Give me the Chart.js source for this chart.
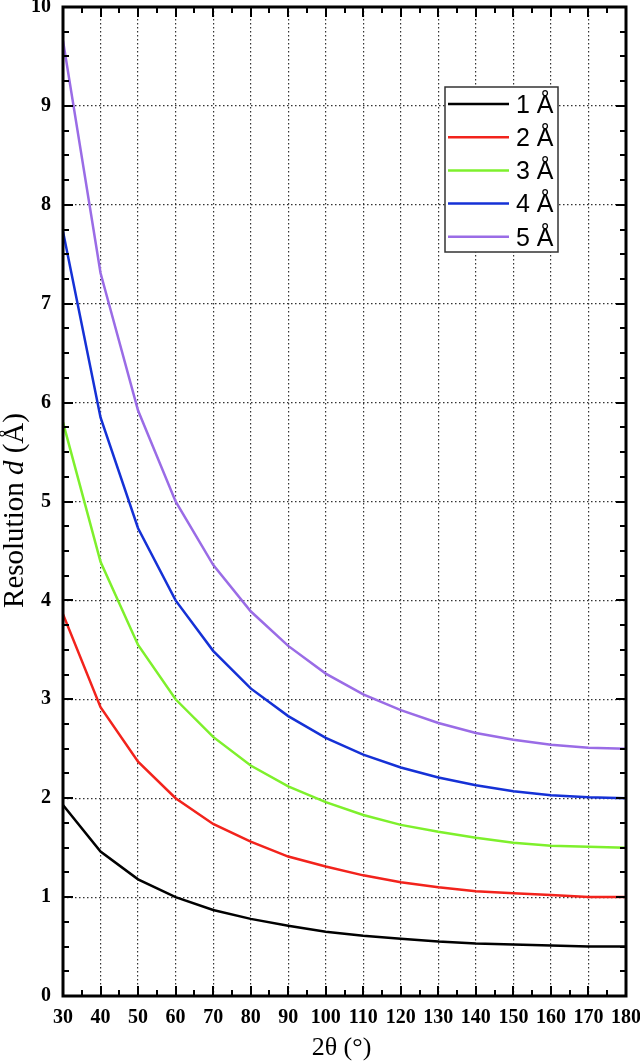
<!DOCTYPE html>
<html><head><meta charset="utf-8">
<script src="https://cdn.jsdelivr.net/npm/chart.js@4/dist/chart.umd.min.js"></script>
<style>html,body{margin:0;padding:0;background:#fff}#wrap{width:640px;height:1061px;position:relative}</style>
</head><body><div id="wrap"><canvas id="c" width="640" height="1061"></canvas></div>
<script>
// ---- data ----
const angles = [30,40,50,60,70,80,90,100,110,120,130,140,150,160,170,180];
const d1A = [1.93,1.46,1.18,1.00,0.87,0.78,0.71,0.65,0.61,0.58,0.55,0.53,0.52,0.51,0.50,0.50];
const d2A = [3.86,2.92,2.37,2.00,1.74,1.56,1.41,1.31,1.22,1.15,1.10,1.06,1.04,1.02,1.00,1.00];
const d3A = [5.80,4.39,3.55,3.00,2.62,2.33,2.12,1.96,1.83,1.73,1.66,1.60,1.55,1.52,1.51,1.50];
const d4A = [7.73,5.85,4.73,4.00,3.49,3.11,2.83,2.61,2.44,2.31,2.21,2.13,2.07,2.03,2.01,2.00];
const d5A = [9.66,7.31,5.92,5.00,4.36,3.89,3.54,3.26,3.05,2.89,2.76,2.66,2.59,2.54,2.51,2.50];
const seriesLabels = ['1 Å','2 Å','3 Å','4 Å','5 Å'];
const seriesValues = [d1A,d2A,d3A,d4A,d5A];
const seriesColors = ['#000000','#f2231c','#7ef02c','#1531d6','#9a6ce6'];
const xTickLabels = ['30','40','50','60','70','80','90','100','110','120','130','140','150','160','170','180'];
const yTickLabels = ['0','1','2','3','4','5','6','7','8','9','10'];
const xTitle = '2θ (°)';
const yTitleParts = [['Resolution ','normal'],['d','italic'],[' (Å)','normal']];

const SERIF = '"Liberation Serif","Times New Roman",serif';
const SANS = '"Liberation Sans",Arial,sans-serif';

const datasets = seriesLabels.map((lab,i)=>({
  label: lab,
  data: angles.map((a,j)=>({x:a,y:seriesValues[i][j]})),
  borderColor: seriesColors[i],
  backgroundColor: seriesColors[i],
  borderWidth: 2.5,
  pointRadius: 0,
  tension: 0,
  fill: false
}));

const framePlugin = {
  id: 'frame',
  afterDatasetsDraw(chart){
    const {ctx, chartArea:a, scales:{x,y}} = chart;
    ctx.save();
    ctx.strokeStyle = '#000';
    ctx.lineWidth = 2;
    ctx.lineCap = 'butt';
    // x ticks (major every 10, minor every 5), inward on bottom and top
    for (let v = x.min; v <= x.max + 1e-9; v += 5){
      const px = Math.round(x.getPixelForValue(v));
      const L = (Math.round(v) % 10 === 0) ? 10 : 6;
      ctx.beginPath();
      ctx.moveTo(px, a.bottom); ctx.lineTo(px, a.bottom - L);
      ctx.moveTo(px, a.top); ctx.lineTo(px, a.top + L);
      ctx.stroke();
    }
    // y ticks (major every 1, minor every 0.25)
    for (let k = 0; k <= 40; k++){
      const v = y.min + k*0.25;
      const py = Math.round(y.getPixelForValue(v));
      const L = (k % 4 === 0) ? 10 : 6;
      ctx.beginPath();
      ctx.moveTo(a.left, py); ctx.lineTo(a.left + L, py);
      ctx.moveTo(a.right, py); ctx.lineTo(a.right - L, py);
      ctx.stroke();
    }
    // frame
    ctx.lineWidth = 3;
    ctx.strokeRect(a.left, a.top, a.right - a.left, a.bottom - a.top);

    // legend box
    const lx = 445, ly = 87, lw = 113, lh = 165, rowH = 33.2;
    ctx.fillStyle = '#fff';
    ctx.fillRect(lx, ly, lw, lh);
    ctx.lineWidth = 1.5;
    ctx.strokeStyle = '#333';
    ctx.strokeRect(lx, ly, lw, lh);
    ctx.font = '25px ' + SANS;
    ctx.textBaseline = 'middle';
    ctx.textAlign = 'left';
    chart.data.datasets.forEach((ds,i)=>{
      const cy = ly + 17 + i*rowH;
      ctx.strokeStyle = ds.borderColor;
      ctx.lineWidth = 2.5;
      ctx.beginPath(); ctx.moveTo(lx + 3, cy); ctx.lineTo(lx + 64, cy); ctx.stroke();
      ctx.fillStyle = '#000';
      ctx.fillText(ds.label, lx + 71, cy + 2);
    });

    // axis titles
    ctx.fillStyle = '#000';
    ctx.font = '26px ' + SERIF;
    ctx.textAlign = 'center';
    ctx.textBaseline = 'alphabetic';
    ctx.fillText(xTitle, (a.left + a.right)/2 - 3, 1055);

    ctx.save();
    ctx.translate(23, (a.top + a.bottom)/2 + 9);
    ctx.rotate(-Math.PI/2);
    const fs = 29;
    let total = 0;
    yTitleParts.forEach(([t,st])=>{ ctx.font = st + ' ' + fs + 'px ' + SERIF; total += ctx.measureText(t).width; });
    let cx = -total/2;
    ctx.textAlign = 'left';
    yTitleParts.forEach(([t,st])=>{ ctx.font = st + ' ' + fs + 'px ' + SERIF; ctx.fillText(t, cx, 0); cx += ctx.measureText(t).width; });
    ctx.restore();
    ctx.restore();
  }
};

new Chart(document.getElementById('c'), {
  type: 'line',
  data: { datasets },
  options: {
    responsive: false,
    animation: false,
    devicePixelRatio: 1,
    layout: { padding: { top: 7, right: 14, left: 0, bottom: 0 } },
    plugins: { legend: { display: false }, tooltip: { enabled: false } },
    scales: {
      x: {
        type: 'linear', min: 30, max: 180,
        afterFit(s){ s.height = 65; s.paddingLeft = 0; s.paddingRight = 0; },
        ticks: { stepSize: 10, padding: 10, color: '#000', maxRotation: 0, autoSkip: false,
          font: { family: SERIF, size: 20, weight: 'bold' },
          callback: (v) => xTickLabels[angles.indexOf(v)] ?? '' },
        grid: { color: '#333', lineWidth: 1.2, drawTicks: false },
        border: { display: false, dash: [1.5,2.5] }
      },
      y: {
        type: 'linear', min: 0, max: 10,
        afterFit(s){ s.width = 63; s.paddingTop = 0; s.paddingBottom = 0; },
        ticks: { stepSize: 1, padding: 12, color: '#000',
          font: { family: SERIF, size: 20, weight: 'bold' },
          callback: (v) => yTickLabels[v] ?? '' },
        grid: { color: '#333', lineWidth: 1.2, drawTicks: false },
        border: { display: false, dash: [1.5,2.5] }
      }
    }
  },
  plugins: [framePlugin]
});
</script>
</body></html>
